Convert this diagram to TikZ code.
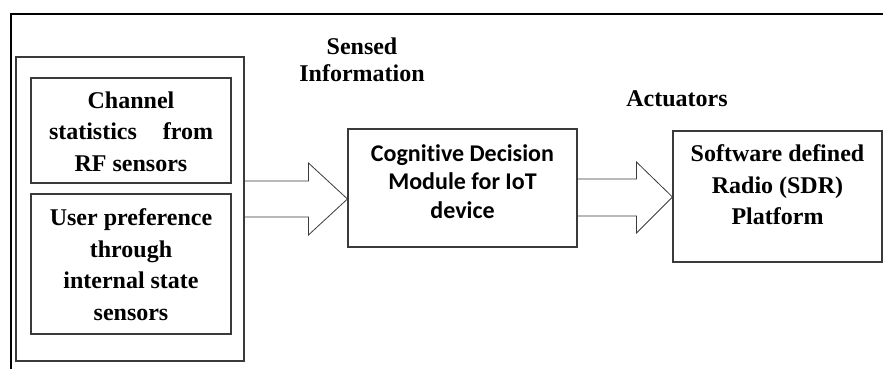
\documentclass[tikz,border=0pt]{standalone}
\usepackage{fontspec}
\setmainfont{Liberation Serif}
\newfontfamily\calib[Ligatures=NoCommon]{Carlito}
\usetikzlibrary{calc}
\definecolor{edge}{HTML}{3A3A3A}
\tikzset{
  box/.style={draw=edge, line width=1.1pt, inner sep=0pt},
  boxtext/.style={align=center, font=\bfseries\fontsize{24}{31.5}\selectfont, inner sep=0pt},
  lbltext/.style={align=center, font=\bfseries\fontsize{24}{26.5}\selectfont, inner sep=0pt},
  cogtext/.style={align=center, font=\calib\bfseries\fontsize{24}{28.5}\selectfont, inner sep=0pt},
  blockarrow/.style={draw=edge, line width=0.8pt},
  frame/.style={draw=black, line width=2.4pt}
}
\begin{document}
\begin{tikzpicture}[x=1pt, y=-1pt]
  \useasboundingbox (0,0) rectangle (883,369);

  % open page frame along the top and left
  \draw[frame] (11,372) -- (11,14) -- (886,14);

  % sensor group and its two inner boxes
  \node[box, minimum width=228pt, minimum height=304pt] (sensbox) at (130,209) {};
  \node[box, minimum width=200pt, minimum height=105pt] (rfbox) at (131,130.5) {};
  \node[box, minimum width=200pt, minimum height=140pt] (userbox) at (131,264) {};
  \node[boxtext] (rftext) at (131,131.5)
    {Channel\\\makebox[164pt]{statistics\hfill from}\\RF sensors};
  \node[boxtext] (usertext) at (131,264.5)
    {User preference\\through\\internal state\\sensors};

  % decision module and SDR platform
  \node[box, minimum width=229pt, minimum height=118pt] (cog) at (462.5,188) {};
  \node[cogtext] (cogtext) at (462.5,181.5) {Cognitive Decision\\Module for IoT\\device};
  \node[box, minimum width=209pt, minimum height=131pt] (sdr) at (777.5,196.5) {};
  \node[boxtext] (sdrtext) at (777.5,185) {Software defined\\Radio (SDR)\\Platform};

  % labels above the arrows
  \node[lbltext] (senselbl) at (362,60) {Sensed\\Information};
  \node[lbltext] (actlbl) at (677,99) {Actuators};

  % block arrows
  \coordinate (a1) at (sensbox.east |- 0,199);
  \coordinate (t1) at (cog.west |- 0,199);
  \draw[blockarrow] ($(a1)+(0,-18)$) -- ($(t1)+(-39,-18)$) -- ($(t1)+(-39,-36)$)
    -- (t1) -- ($(t1)+(-39,36)$) -- ($(t1)+(-39,18)$) -- ($(a1)+(0,18)$);
  \coordinate (a2) at (cog.east |- 0,197);
  \coordinate (t2) at (sdr.west |- 0,197);
  \draw[blockarrow] ($(a2)+(0,-18)$) -- ($(t2)+(-36,-18)$) -- ($(t2)+(-36,-35)$)
    -- (t2) -- ($(t2)+(-36,36)$) -- ($(t2)+(-36,19)$) -- ($(a2)+(0,19)$);
\end{tikzpicture}
\end{document}
